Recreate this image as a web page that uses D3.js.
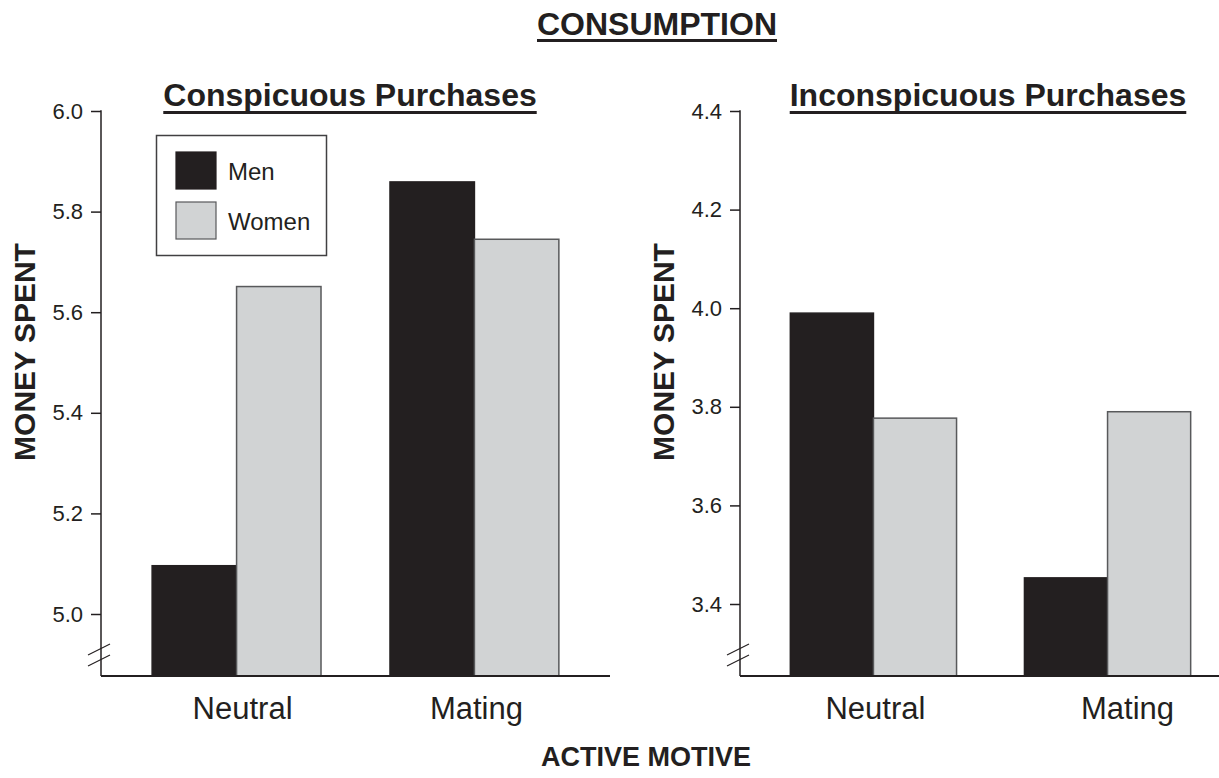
<!DOCTYPE html>
<html lang="en">
<head>
    <meta charset="UTF-8">
    <title>Consumption</title>
    <script src="https://d3js.org/d3.v7.min.js"></script>
    <style>
        body { margin: 0; background: #fff; }
        text { font-family: "Liberation Sans", Arial, Helvetica, sans-serif; fill: #231f20; }
    </style>
</head>
<body>
    <svg id="chart"></svg>
    <script>
        const motives = ["Neutral", "Mating"];
        const genders = ["Men", "Women"];

        const conspicuousMen = [5.096, 5.859];
        const conspicuousWomen = [5.651, 5.745];
        const conspicuousTicks = [5.0, 5.2, 5.4, 5.6, 5.8, 6.0];

        const inconspicuousMen = [3.990, 3.453];
        const inconspicuousWomen = [3.777, 3.790];
        const inconspicuousTicks = [3.4, 3.6, 3.8, 4.0, 4.2, 4.4];

        const width = 1219, height = 778;
        const baseY = 676;   // x axis line
        const topY = 111;    // top tick
        const ink = "#231f20";
        const colour = d3.scaleOrdinal().domain(genders).range(["#231f20", "#d1d3d4"]);

        const svg = d3.select("#chart")
                      .attr("width", width)
                      .attr("height", height);

        function underline(textSel, thickness, gap) {
            const b = textSel.node().getBBox();
            svg.append("rect")
               .attr("x", b.x)
               .attr("y", +textSel.attr("y") + gap)
               .attr("width", b.width)
               .attr("height", thickness)
               .attr("fill", ink);
        }

        function drawPanel(p) {
            const g = svg.append("g");

            const y = d3.scaleLinear()
                        .domain([p.ticks[0], p.ticks[p.ticks.length - 1]])
                        .range([p.lowTickY, topY]);

            const x0 = d3.scaleBand()
                         .domain(motives)
                         .range([p.axisX, p.axisX + p.plotWidth])
                         .paddingInner(0.29)
                         .paddingOuter(0.215);

            const x1 = d3.scaleBand()
                         .domain(genders)
                         .range([0, x0.bandwidth()]);

            const rows = motives.map((m, i) => ({ motive: m, Men: p.men[i], Women: p.women[i] }));

            const groups = g.selectAll(".group")
                            .data(rows)
                            .enter()
                            .append("g")
                            .attr("transform", d => `translate(${x0(d.motive)},0)`);

            groups.selectAll("rect")
                  .data(d => genders.map(k => ({ key: k, value: d[k] })))
                  .enter()
                  .append("rect")
                  .attr("x", d => x1(d.key))
                  .attr("y", d => y(d.value))
                  .attr("width", x1.bandwidth())
                  .attr("height", d => baseY - y(d.value))
                  .attr("fill", d => colour(d.key))
                  .attr("stroke", d => d.key === "Men" ? "#231f20" : "#58595b")
                  .attr("stroke-width", 1.5);

            // y axis
            const yAxis = g.append("g")
                           .attr("transform", `translate(${p.axisX},0)`)
                           .call(d3.axisLeft(y)
                                   .tickValues(p.ticks)
                                   .tickFormat(d3.format(".1f"))
                                   .tickSize(10)
                                   .tickPadding(8));
            yAxis.select(".domain").remove();
            yAxis.selectAll(".tick line").attr("stroke", ink).attr("stroke-width", 1.5);
            yAxis.selectAll(".tick text")
                 .style("font-family", "'Liberation Sans', Arial, sans-serif")
                 .style("font-size", "22px")
                 .attr("fill", ink);

            g.append("line")
             .attr("x1", p.axisX).attr("x2", p.axisX)
             .attr("y1", topY - 0.75).attr("y2", baseY)
             .attr("stroke", ink).attr("stroke-width", 1.5);

            g.append("line")
             .attr("x1", p.axisX).attr("x2", p.axisX + p.plotWidth)
             .attr("y1", baseY).attr("y2", baseY)
             .attr("stroke", ink).attr("stroke-width", 1.8);

            // axis break marks
            [0, 11].forEach(off => {
                g.append("line")
                 .attr("x1", p.axisX - 13).attr("y1", baseY - 10 - off)
                 .attr("x2", p.axisX + 9).attr("y2", baseY - 21 - off)
                 .attr("stroke", ink).attr("stroke-width", 1.2);
            });

            // category labels
            g.selectAll(".cat")
             .data(motives)
             .enter()
             .append("text")
             .attr("x", (d, i) => x0(d) + x0.bandwidth() / 2 + p.labelDx[i])
             .attr("y", 719)
             .attr("text-anchor", "middle")
             .style("font-size", "31px")
             .text(d => d);

            // y label
            g.append("text")
             .attr("transform", `translate(${p.axisX - 66},352) rotate(-90)`)
             .attr("text-anchor", "middle")
             .style("font-size", "30px")
             .style("font-weight", "bold")
             .text("MONEY SPENT");

            const t = g.append("text")
                       .attr("x", p.titleX)
                       .attr("y", 106)
                       .attr("text-anchor", "middle")
                       .style("font-size", "32px")
                       .style("font-weight", "bold")
                       .text(p.title);
            underline(t, 3, 5);
        }

        drawPanel({
            title: "Conspicuous Purchases", titleX: 350,
            axisX: 101, plotWidth: 509, lowTickY: 614, labelDx: [6, 2],
            ticks: conspicuousTicks, men: conspicuousMen, women: conspicuousWomen
        });

        drawPanel({
            title: "Inconspicuous Purchases", titleX: 988,
            axisX: 740, plotWidth: 501, lowTickY: 604, labelDx: [2, 20],
            ticks: inconspicuousTicks, men: inconspicuousMen, women: inconspicuousWomen
        });

        // legend
        const legend = svg.append("g");
        legend.append("rect")
              .attr("x", 156.5).attr("y", 135.5)
              .attr("width", 170).attr("height", 120)
              .attr("fill", "#fff").attr("stroke", "#414042").attr("stroke-width", 1.5);

        const items = legend.selectAll(".item")
                            .data(genders)
                            .enter()
                            .append("g")
                            .attr("transform", (_, i) => `translate(176,${152 + 50 * i})`);
        items.append("rect")
             .attr("width", 40).attr("height", 37)
             .attr("fill", colour)
             .attr("stroke", d => d === "Men" ? "#231f20" : "#58595b")
             .attr("stroke-width", 1.2);
        items.append("text")
             .attr("x", 52).attr("y", 28)
             .style("font-size", "24px")
             .text(d => d);

        const main = svg.append("text")
                        .attr("x", 657).attr("y", 35)
                        .attr("text-anchor", "middle")
                        .style("font-size", "32px")
                        .style("font-weight", "bold")
                        .text("CONSUMPTION");
        underline(main, 3, 4);

        svg.append("text")
           .attr("x", 646).attr("y", 766)
           .attr("text-anchor", "middle")
           .style("font-size", "27px")
           .style("font-weight", "bold")
           .text("ACTIVE MOTIVE");
    </script>
</body>
</html>
